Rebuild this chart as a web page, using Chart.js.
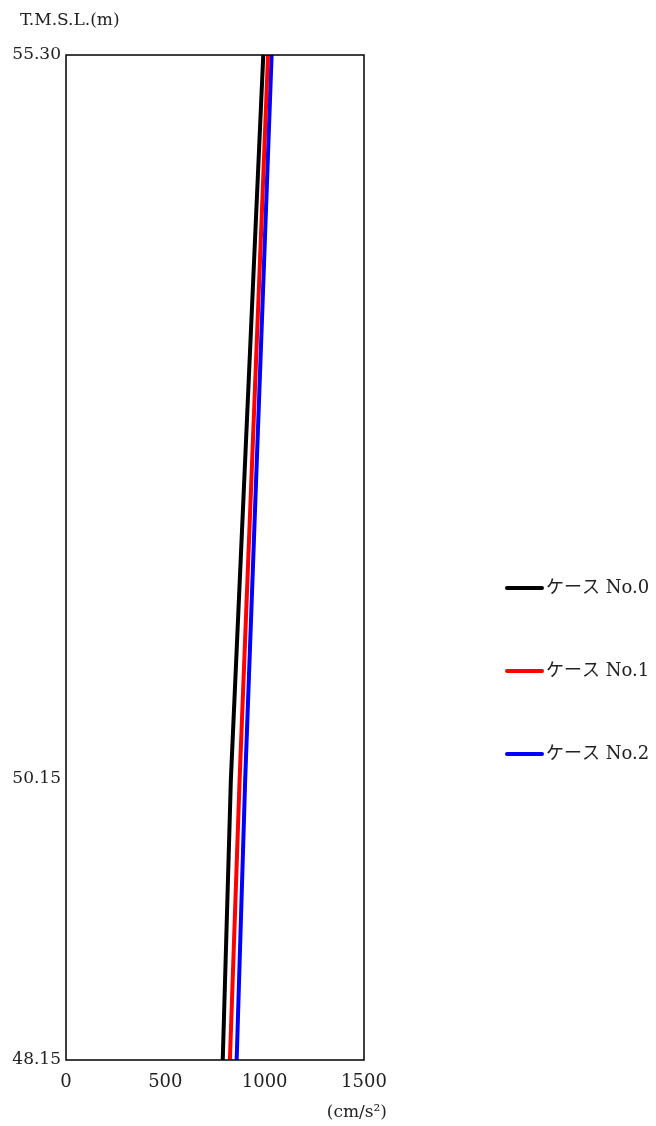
<!DOCTYPE html>
<html><head><meta charset="utf-8">
<script src="https://cdn.jsdelivr.net/npm/chart.js@4.4.1/dist/chart.umd.min.js"></script>
<style>html,body{margin:0;padding:0;background:#fff;}#wrap{width:656px;height:1126px;position:relative;}</style>
</head><body><div id="wrap"><canvas id="c" width="656" height="1126"></canvas></div>
<script>
const elevations = [55.30, 50.15, 48.15];
const case0 = [993, 830, 789];
const case1 = [1017, 874, 825];
const case2 = [1035, 902, 859];
const seriesLabels = ['ケース No.0', 'ケース No.1', 'ケース No.2'];
const seriesColors = ['#000000', '#ff0000', '#0000ff'];
const yTicks = [48.15, 50.15, 55.30];
const xTicks = [0, 500, 1000, 1500];
const yTitle = 'T.M.S.L.(m)';
const xTitle = '(cm/s²)';

const FONT = '"DejaVu Serif", "Noto Sans CJK JP", serif';
const seriesData = [case0, case1, case2];
const datasets = seriesData.map((arr, i) => ({
  label: seriesLabels[i],
  data: arr.map((v, j) => ({x: v, y: elevations[j]})),
  borderColor: seriesColors[i],
  backgroundColor: seriesColors[i],
  borderWidth: 4,
  pointRadius: 0,
  tension: 0,
  fill: false
}));

const deco = {
  id: 'deco',
  afterDraw(chart) {
    const ctx = chart.ctx, a = chart.chartArea;
    ctx.save();
    ctx.strokeStyle = '#000';
    ctx.lineWidth = 1.5;
    ctx.strokeRect(a.left, a.top, a.right - a.left, a.bottom - a.top);
    ctx.fillStyle = '#222';
    ctx.font = '17px ' + FONT;
    ctx.textBaseline = 'middle';
    ctx.textAlign = 'left';
    ctx.fillText(yTitle, 20, 21);
    ctx.textAlign = 'right';
    ctx.fillText(xTitle, 387, 1113);
    // legend
    ctx.textAlign = 'left';
    ctx.font = '18px ' + FONT;
    seriesLabels.forEach((lab, i) => {
      const y = 588 + i * 83;
      ctx.strokeStyle = seriesColors[i];
      ctx.lineWidth = 4;
      ctx.lineCap = 'round';
      ctx.beginPath(); ctx.moveTo(507, y); ctx.lineTo(542, y); ctx.stroke();
      ctx.fillStyle = '#222';
      ctx.fillText(lab, 546, y);
    });
    ctx.restore();
  }
};

new Chart(document.getElementById('c'), {
  type: 'line',
  data: {datasets},
  options: {
    responsive: false,
    animation: false,
    layout: {padding: {top: 55, right: 292, bottom: 0, left: 0}},
    plugins: {legend: {display: false}, tooltip: {enabled: false}},
    scales: {
      x: {
        type: 'linear', min: 0, max: 1500,
        afterBuildTicks: s => { s.ticks = xTicks.map(v => ({value: v})); },
        afterFit: s => { s.height = 66; },
        grid: {display: false, drawTicks: false},
        border: {display: false},
        ticks: {color: '#222', font: {family: FONT, size: 18}, padding: 12, maxRotation: 0, autoSkip: false,
          callback: v => String(v)}
      },
      y: {
        type: 'linear', min: 48.15, max: 55.30,
        afterBuildTicks: s => { s.ticks = yTicks.map(v => ({value: v})); },
        afterFit: s => { s.width = 66; },
        grid: {display: false, drawTicks: false},
        border: {display: false},
        ticks: {color: '#222', font: {family: FONT, size: 17}, padding: 5, autoSkip: false,
          callback: v => v.toFixed(2)}
      }
    }
  },
  plugins: [deco]
});
</script></body></html>
